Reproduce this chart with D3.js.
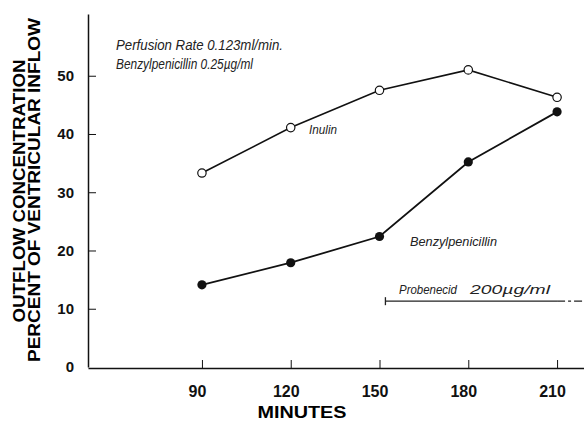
<!DOCTYPE html>
<html>
<head>
<meta charset="utf-8">
<script src="https://cdn.jsdelivr.net/npm/d3@7"></script>
<style>
	body { margin: 0; background: #fff; }
	svg { display: block; }
	.axis path, .axis line { stroke: #111; }
	.axis text { font-family: "Liberation Sans", Arial, sans-serif; font-weight: bold; fill: #111; }
	.note { font-family: "Liberation Sans", Arial, sans-serif; font-style: italic; fill: #222; }
</style>
</head>
<body>
<script>
// x values (minutes) and the two measured series
var minutes = [90, 120, 150, 180, 210];
var inulin = [33.3, 41.1, 47.5, 51.0, 46.3];
var benzylpenicillin = [14.1, 17.9, 22.4, 35.2, 43.8];
var yTicks = [0, 10, 20, 30, 40, 50];
// probenecid bar: start, end of solid part (minutes) and level
var probenecid = [152, 210, 11.3];

var width = 584, height = 421;

var svg = d3.select("body").append("svg")
	.attr("width", width)
	.attr("height", height);

// scales fitted to the scan
var xScale = d3.scaleLinear().domain([51.5, 219.1]).range([88, 584]);
var yScale = d3.scaleLinear().domain([0, 60.6]).range([367, 14]);

// x axis, ticks point inward
var xAxis = svg.append("g")
	.attr("class", "axis")
	.attr("transform", "translate(0," + (yScale(0) + 1) + ")")
	.call(d3.axisBottom(xScale).tickValues(minutes).tickSizeInner(-8).tickSizeOuter(0).tickPadding(18));
xAxis.selectAll("text").attr("font-size", 16).attr("dx", -5);
xAxis.select(".domain").attr("stroke-width", 1.5);

// y axis
var yAxis = svg.append("g")
	.attr("class", "axis")
	.attr("transform", "translate(88,0)")
	.call(d3.axisLeft(yScale).tickValues(yTicks).tickSizeInner(-8).tickSizeOuter(0).tickPadding(14));
yAxis.selectAll("text").attr("font-size", 15);
yAxis.select(".domain").attr("stroke-width", 1.5);
yAxis.selectAll(".tick").filter(function (d) { return d === 0; }).select("line").remove();

// axis titles
svg.append("text")
	.attr("transform", "translate(25,191) rotate(-90)")
	.attr("text-anchor", "middle")
	.attr("font-family", "Liberation Sans, Arial, sans-serif")
	.attr("font-weight", "bold")
	.attr("font-size", 16)
	.attr("textLength", 263)
	.attr("lengthAdjust", "spacingAndGlyphs")
	.text("OUTFLOW CONCENTRATION");
svg.append("text")
	.attr("transform", "translate(40,190) rotate(-90)")
	.attr("text-anchor", "middle")
	.attr("font-family", "Liberation Sans, Arial, sans-serif")
	.attr("font-weight", "bold")
	.attr("font-size", 16)
	.attr("textLength", 344)
	.attr("lengthAdjust", "spacingAndGlyphs")
	.text("PERCENT OF VENTRICULAR INFLOW");
svg.append("text")
	.attr("x", 302)
	.attr("y", 418)
	.attr("text-anchor", "middle")
	.attr("font-family", "Liberation Sans, Arial, sans-serif")
	.attr("font-weight", "bold")
	.attr("font-size", 16)
	.attr("textLength", 89)
	.attr("lengthAdjust", "spacingAndGlyphs")
	.text("MINUTES");

// lines
var line = d3.line()
	.x(function (d, i) { return xScale(minutes[i]); })
	.y(function (d) { return yScale(d); });

svg.append("path").datum(inulin)
	.attr("d", line).attr("fill", "none").attr("stroke", "#111").attr("stroke-width", 1.6);
svg.append("path").datum(benzylpenicillin)
	.attr("d", line).attr("fill", "none").attr("stroke", "#111").attr("stroke-width", 1.8);

svg.selectAll(".open").data(inulin).enter().append("circle")
	.attr("class", "open")
	.attr("cx", function (d, i) { return xScale(minutes[i]); })
	.attr("cy", function (d) { return yScale(d); })
	.attr("r", 4.2)
	.attr("fill", "#fff").attr("stroke", "#111").attr("stroke-width", 1.2);

svg.selectAll(".filled").data(benzylpenicillin).enter().append("circle")
	.attr("class", "filled")
	.attr("cx", function (d, i) { return xScale(minutes[i]); })
	.attr("cy", function (d) { return yScale(d); })
	.attr("r", 4.6)
	.attr("fill", "#111");

// probenecid bar
var py = yScale(probenecid[2]);
svg.append("line")
	.attr("x1", xScale(probenecid[0])).attr("x2", xScale(probenecid[1]))
	.attr("y1", py).attr("y2", py)
	.attr("stroke", "#222").attr("stroke-width", 1.3);
svg.append("line")
	.attr("x1", xScale(probenecid[1])).attr("x2", width)
	.attr("y1", py).attr("y2", py)
	.attr("stroke", "#222").attr("stroke-width", 1.3)
	.attr("stroke-dasharray", "8,3,3,3");
svg.append("line")
	.attr("x1", xScale(probenecid[0])).attr("x2", xScale(probenecid[0]))
	.attr("y1", py - 4).attr("y2", py + 4)
	.attr("stroke", "#222").attr("stroke-width", 1.3);

// annotations
function note(x, y, size, len, txt) {
	svg.append("text")
		.attr("class", "note")
		.attr("x", x).attr("y", y)
		.attr("font-size", size)
		.attr("textLength", len)
		.attr("lengthAdjust", "spacingAndGlyphs")
		.text(txt);
}
note(116, 50, 14, 167, "Perfusion  Rate 0.123ml/min.");
note(116, 69, 14, 137, "Benzylpenicillin 0.25µg/ml");
note(309, 134, 12, 28, "Inulin");
note(410, 246, 13, 87, "Benzylpenicillin");
note(399, 294, 13, 58, "Probenecid");
note(470, 294, 13, 80, "200µg/ml");
</script>
</body>
</html>
